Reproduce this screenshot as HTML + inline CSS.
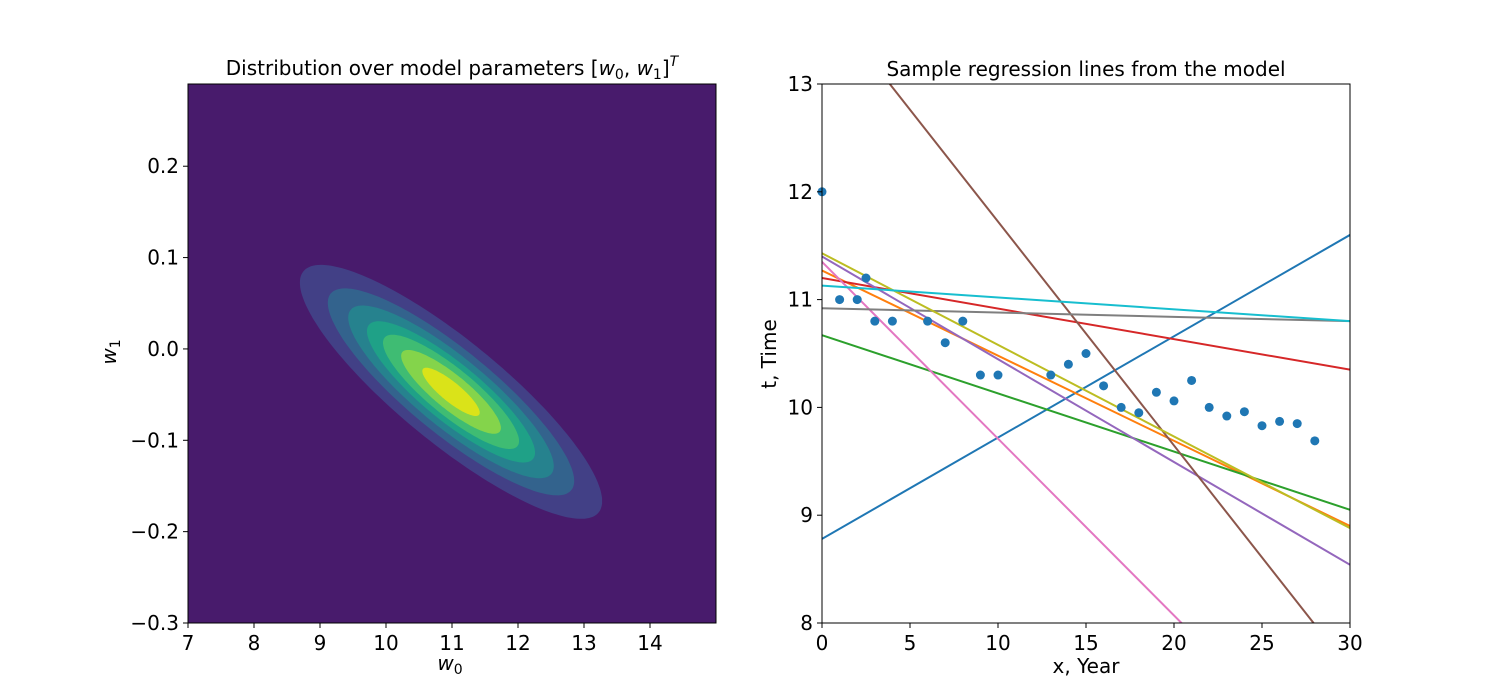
<!DOCTYPE html>
<html><head><meta charset="utf-8"><style>
html,body{margin:0;padding:0;background:#fff;width:1500px;height:700px;overflow:hidden;position:relative;}
svg{display:block;font-family:"DejaVu Sans","Liberation Sans",sans-serif;}
</style></head><body>
<svg id="fig" width="1500" height="700" viewBox="0 0 1500 700" style="position:absolute;left:0;top:0">
<g id="left"></g>
<g id="right"></g>
<text x="452" y="75" font-size="20" text-anchor="middle">Distribution over model parameters [<tspan font-style="italic">w</tspan><tspan font-size="14" dy="4">0</tspan><tspan dy="-4">, </tspan><tspan font-style="italic">w</tspan><tspan font-size="14" dy="4">1</tspan><tspan dy="-4">]</tspan><tspan font-size="14" font-style="italic" dy="-9">T</tspan></text>
<text x="450" y="670" font-size="20" text-anchor="middle"><tspan font-style="italic">w</tspan><tspan font-size="14" dy="4">0</tspan></text>
<text transform="translate(116,352) rotate(-90)" font-size="20" text-anchor="middle"><tspan font-style="italic">w</tspan><tspan font-size="14" dy="4">1</tspan></text>
<text x="1086" y="76" font-size="20" text-anchor="middle">Sample regression lines from the model</text>
<text x="1086" y="673" font-size="20" text-anchor="middle">x, Year</text>
<text transform="translate(776,354) rotate(-90)" font-size="20" text-anchor="middle">t, Time</text>
</svg>
<script>
// ----- Left panel data -----
const meanW = [10.985, -0.047];
const outerHalfW0 = 2.29;
const outerHalfW1 = 0.139;
const corr = -0.86;
const levelRadii = [1, 0.815, 0.68, 0.556, 0.45, 0.33, 0.19];
const levelColors = ["#424086", "#33638d", "#26828e", "#1fa187", "#3fbc73", "#84d44b", "#dae319"];
const leftXTicks = [7, 8, 9, 10, 11, 12, 13, 14];
const leftYTicks = [0.2, 0.1, 0.0, -0.1, -0.2, -0.3];
const leftYTickLabels = ["0.2", "0.1", "0.0", "\u22120.1", "\u22120.2", "\u22120.3"];
// ----- Right panel data -----
const yearX = [0,1,2,2.5,3,4,6,7,8,9,10,13,14,15,16,17,18,19,20,21,22,23,24,25,26,27,28];
const timeT = [12,11,11,11.2,10.8,10.8,10.8,10.6,10.8,10.3,10.3,10.3,10.4,10.5,10.2,10.0,9.95,10.14,10.06,10.25,10.0,9.92,9.96,9.83,9.87,9.85,9.69];
const lineIntercepts = [8.78, 11.27, 10.67, 11.2, 11.4, 13.8, 11.35, 10.92, 11.43, 11.13];
const lineAt30 = [11.6, 8.9, 9.05, 10.35, 8.54, 7.57, 6.43, 10.8, 8.88, 10.8];
const lineColors = ["#1f77b4","#ff7f0e","#2ca02c","#d62728","#9467bd","#8c564b","#e377c2","#7f7f7f","#bcbd22","#17becf"];
const rightXTicks = [0,5,10,15,20,25,30];
const rightYTicks = [8,9,10,11,12,13];

const NS = "http://www.w3.org/2000/svg";
function mk(parent, tag, attrs, text){
  const e = document.createElementNS(NS, tag);
  for (const k in attrs) e.setAttribute(k, attrs[k]);
  if (text !== undefined) e.textContent = text;
  parent.appendChild(e); return e;
}
const FS = 20;

// Left axes
const L = {x0:188, x1:716, y0:84, y1:623, xmin:7, xmax:15, ymin:-0.3, ymax:0.29};
const lx = v => L.x0 + (v - L.xmin) / (L.xmax - L.xmin) * (L.x1 - L.x0);
const ly = v => L.y1 - (v - L.ymin) / (L.ymax - L.ymin) * (L.y1 - L.y0);
const left = document.getElementById("left");
const bg = mk(left, "rect", {x:L.x0, y:L.y0, width:L.x1-L.x0, height:L.y1-L.y0, fill:"#481b6c"});


levelRadii.forEach((r, i) => {
  let pts = [];
  for (let k = 0; k < 180; k++) {
    const t = k / 180 * 2 * Math.PI;
    const x = meanW[0] + outerHalfW0 * r * Math.cos(t);
    const y = meanW[1] + outerHalfW1 * r * (corr * Math.cos(t) + Math.sqrt(1 - corr*corr) * Math.sin(t));
    pts.push(lx(x).toFixed(1) + "," + ly(y).toFixed(1));
  }
  const p = mk(left, "polygon", {points: pts.join(" "), fill: levelColors[i]});
  
  
});
const lframe = mk(left, "rect", {x:L.x0, y:L.y0, width:L.x1-L.x0, height:L.y1-L.y0, fill:"none", stroke:"#000", "stroke-width":1});


leftXTicks.forEach(v => {
  const x = lx(v);
  mk(left, "line", {x1:x, x2:x, y1:L.y1, y2:L.y1+5, stroke:"#000"});
  const t = mk(left, "text", {x:x, y:L.y1+27, "font-size":FS, "text-anchor":"middle"}, String(v));
  
  
});
leftYTicks.forEach((v, i) => {
  const y = ly(v);
  mk(left, "line", {x1:L.x0-5, x2:L.x0, y1:y, y2:y, stroke:"#000"});
  const t = mk(left, "text", {x:L.x0-9, y:y+7, "font-size":FS, "text-anchor":"end"}, leftYTickLabels[i]);
  
  
});

// Right axes
const R = {x0:822, x1:1350, y0:84, y1:623, xmin:0, xmax:30, ymin:8, ymax:13};
const rx = v => R.x0 + (v - R.xmin) / (R.xmax - R.xmin) * (R.x1 - R.x0);
const ry = v => R.y1 - (v - R.ymin) / (R.ymax - R.ymin) * (R.y1 - R.y0);
const right = document.getElementById("right");
mk(right, "defs", {}).innerHTML = '<clipPath id="rc"><rect x="822" y="84" width="528" height="539"/></clipPath>';
const lg = mk(right, "g", {"clip-path":"url(#rc)"});
lineIntercepts.forEach((b, i) => {
  const l = mk(lg, "line", {x1:rx(0), y1:ry(b), x2:rx(30), y2:ry(lineAt30[i]), stroke:lineColors[i], "stroke-width":2});
  
  
});
yearX.forEach((x, i) => {
  const c = mk(right, "circle", {cx:rx(x), cy:ry(timeT[i]), r:4.5, fill:"#1f77b4"});
  
  
});
const rframe = mk(right, "rect", {x:R.x0, y:R.y0, width:R.x1-R.x0, height:R.y1-R.y0, fill:"none", stroke:"#000", "stroke-width":1});


rightXTicks.forEach(v => {
  const x = rx(v);
  mk(right, "line", {x1:x, x2:x, y1:R.y1, y2:R.y1+5, stroke:"#000"});
  const t = mk(right, "text", {x:x, y:R.y1+27, "font-size":FS, "text-anchor":"middle"}, String(v));
  
  
});
rightYTicks.forEach(v => {
  const y = ry(v);
  mk(right, "line", {x1:R.x0-5, x2:R.x0, y1:y, y2:y, stroke:"#000"});
  const t = mk(right, "text", {x:R.x0-9, y:y+7, "font-size":FS, "text-anchor":"end"}, String(v));
  
  
});
</script>
</body></html>
